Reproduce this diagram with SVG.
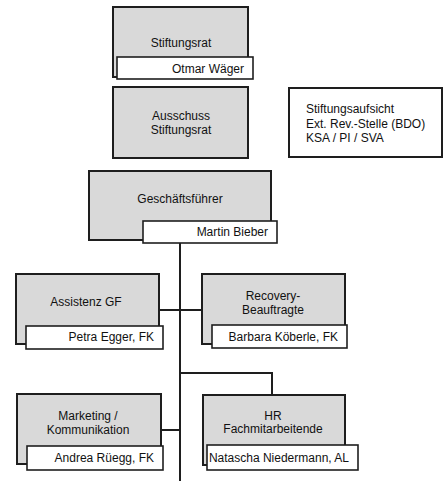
<svg xmlns="http://www.w3.org/2000/svg" width="445" height="481" viewBox="0 0 445 481">
<style>
  .unit { fill: #d9d9d9; stroke: #1e1e1e; stroke-width: 2; }
  .name { fill: #ffffff; stroke: #1e1e1e; stroke-width: 1.6; }
  .note { fill: #ffffff; stroke: #1e1e1e; stroke-width: 2; }
  .t { font-family: "Liberation Sans", Arial, sans-serif; font-size: 12px; fill: #111; }
  .c { text-anchor: middle; }
  .r { text-anchor: end; }
  .conn { fill: none; stroke: #1e1e1e; stroke-width: 2; }
</style>
<rect width="445" height="481" fill="#ffffff"/>
<g id="connectors">
  <line class="conn" x1="180" y1="243" x2="180" y2="481"/>
  <line class="conn" x1="159" y1="310" x2="202" y2="310"/>
  <line class="conn" x1="161" y1="430" x2="180" y2="430"/>
  <polyline class="conn" points="180,373 272,373 272,395"/>
</g>
<g id="stiftungsrat">
  <rect class="unit" x="113" y="7" width="135" height="70"/>
  <text class="t c" x="181" y="47">Stiftungsrat</text>
  <rect class="name" x="117" y="57" width="136" height="22"/>
  <text class="t r" x="244" y="73">Otmar Wäger</text>
</g>
<g id="ausschuss">
  <rect class="unit" x="113" y="87" width="135" height="71"/>
  <text class="t c" x="181" y="120">Ausschuss</text>
  <text class="t c" x="181" y="134">Stiftungsrat</text>
</g>
<g id="aufsicht">
  <rect class="note" x="289" y="88" width="153" height="69"/>
  <text class="t" x="306" y="113">Stiftungsaufsicht</text>
  <text class="t" x="306" y="127.5">Ext. Rev.-Stelle (BDO)</text>
  <text class="t" x="306" y="142">KSA / PI / SVA</text>
</g>
<g id="gf">
  <rect class="unit" x="89" y="171" width="182" height="69"/>
  <text class="t c" x="180" y="203">Geschäftsführer</text>
  <rect class="name" x="143" y="221" width="134" height="22"/>
  <text class="t r" x="268" y="236">Martin Bieber</text>
</g>
<g id="assistenz">
  <rect class="unit" x="16" y="274" width="143" height="70"/>
  <text class="t c" x="86" y="306">Assistenz GF</text>
  <rect class="name" x="26" y="326" width="137" height="23"/>
  <text class="t r" x="154" y="341">Petra Egger, FK</text>
</g>
<g id="recovery">
  <rect class="unit" x="202" y="274" width="143" height="70"/>
  <text class="t c" x="273" y="300">Recovery-</text>
  <text class="t c" x="273" y="314">Beauftragte</text>
  <rect class="name" x="212" y="325" width="135" height="23"/>
  <text class="t r" x="338" y="341">Barbara Köberle, FK</text>
</g>
<g id="marketing">
  <rect class="unit" x="17" y="394" width="144" height="70"/>
  <text class="t c" x="88" y="420">Marketing /</text>
  <text class="t c" x="88" y="434">Kommunikation</text>
  <rect class="name" x="27" y="446" width="136" height="24"/>
  <text class="t r" x="154" y="462">Andrea Rüegg, FK</text>
</g>
<g id="hr">
  <rect class="unit" x="203" y="395" width="142" height="70"/>
  <text class="t c" x="273" y="420">HR</text>
  <text class="t c" x="273" y="433">Fachmitarbeitende</text>
  <rect class="name" x="207" y="445" width="151" height="25"/>
  <text class="t r" x="349" y="462">Natascha Niedermann, AL</text>
</g>
</svg>
